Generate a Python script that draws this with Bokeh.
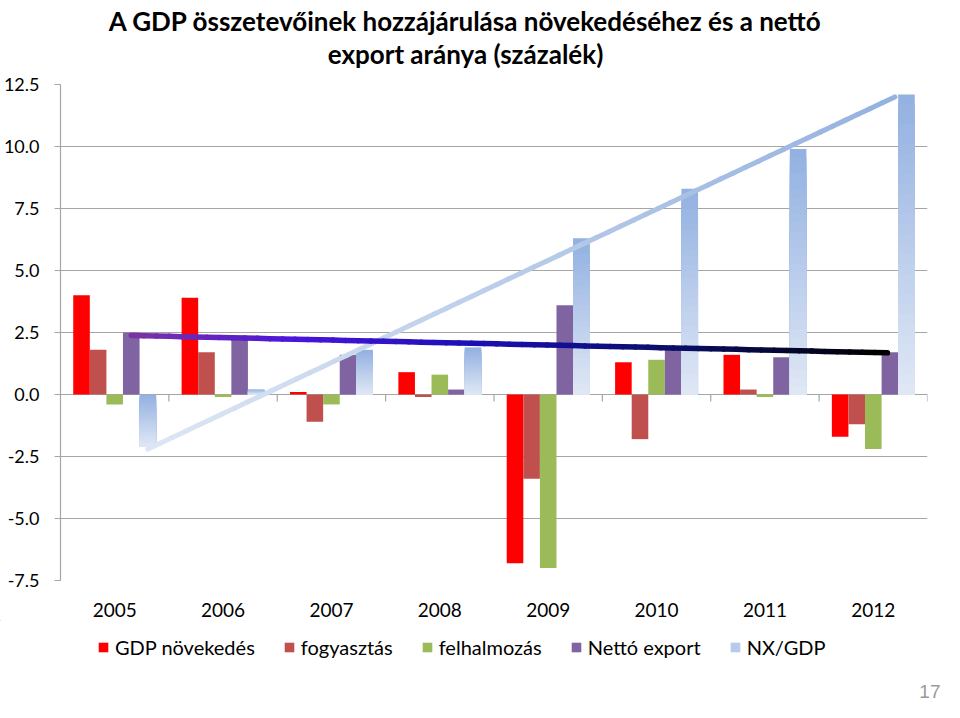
import numpy as np
from bokeh.plotting import figure
from bokeh.layouts import column
from bokeh.models import (Range1d, FixedTicker, Label, Legend, LegendItem,
                          ColumnDataSource, NumeralTickFormatter)
from bokeh.embed import file_html
from bokeh.resources import INLINE

# ---------------- data ----------------
years = ["2005", "2006", "2007", "2008", "2009", "2010", "2011", "2012"]
gdp_novekedes = [4.0, 3.9, 0.1, 0.9, -6.8, 1.3, 1.6, -1.7]
fogyasztas = [1.8, 1.7, -1.1, -0.1, -3.4, -1.8, 0.2, -1.2]
felhalmozas = [-0.4, -0.1, -0.4, 0.8, -7.0, 1.4, -0.1, -2.2]
netto_export = [2.5, 2.2, 1.6, 0.2, 3.6, 1.8, 1.5, 1.7]
nx_gdp = [-2.1, 0.2, 1.8, 1.9, 6.3, 8.3, 9.9, 12.1]
# linear trend lines (start / end values)
netto_export_trend = [2.38, 1.68]
nx_gdp_trend = [-2.2, 12.0]
y_ticks = [-7.5, -5.0, -2.5, 0.0, 2.5, 5.0, 7.5, 10.0, 12.5]

title_lines = ["A GDP összetevőinek hozzájárulása növekedéséhez és a nettó",
               "export aránya (százalék)"]
series_names = ["GDP növekedés", "fogyasztás", "felhalmozás", "Nettó export", "NX/GDP"]
page_number = "17"

# ---------------- style ----------------
FONT = "Lato"
GRID = "#a6a6a6"
BAR_W = 0.153
COLORS = ["#ff0000", "#c0504d", "#9bbb59", "#8064a2"]
NXGDP_TOP = "#93b1e1"
NXGDP_BOT = "#dfe7f5"
NXGDP_LEGEND = "#b6caeb"
W = 944


def hex2rgb(h):
    h = h.lstrip("#")
    return np.array([int(h[i:i + 2], 16) for i in (0, 2, 4)], dtype=float)


def rgb2hex(c):
    c = np.clip(np.round(c), 0, 255).astype(int)
    return "#%02x%02x%02x" % tuple(c)


def interp_colors(stops, n):
    pos = np.array([s[0] for s in stops])
    cols = np.array([hex2rgb(s[1]) for s in stops])
    out = []
    for t in np.linspace(0, 1, n):
        c = [np.interp(t, pos, cols[:, k]) for k in range(3)]
        out.append(rgb2hex(np.array(c)))
    return out


def blank_fig(height, y_top, y_bottom):
    f = figure(width=W, height=height, output_backend="svg", toolbar_location=None,
               x_range=Range1d(0, W), y_range=Range1d(y_bottom, y_top),
               x_axis_type=None, y_axis_type=None, min_border=0,
               frame_align=False)
    f.title_location = None
    f.outline_line_color = None
    f.grid.visible = False
    f.background_fill_color = "white"
    f.border_fill_color = "white"
    return f


# ---------------- title figure (page rows 0..72) ----------------
pt = blank_fig(72, 0, 72)
for txt, yy in zip(title_lines, [20, 53]):
    pt.add_layout(Label(x=465, y=yy, text=txt, text_align="center",
                        text_baseline="alphabetic", text_font=FONT,
                        text_font_style="bold", text_font_size="26px",
                        text_color="black"))

# ---------------- main chart (page rows 72..620) ----------------
x_idx = np.arange(len(years), dtype=float)

p = figure(width=W, height=548, output_backend="svg", toolbar_location=None,
           x_range=Range1d(-0.5, 7.5), y_range=Range1d(-7.5, 12.5),
           min_border_left=59, min_border_right=17,
           min_border_top=12, min_border_bottom=40, frame_align=False)
p.title_location = None
p.outline_line_color = None
p.background_fill_color = "white"
p.border_fill_color = "white"

p.xgrid.visible = False
p.ygrid.ticker = FixedTicker(ticks=y_ticks)
p.ygrid.grid_line_color = GRID
p.ygrid.grid_line_width = 1.2

p.yaxis.ticker = FixedTicker(ticks=y_ticks)
p.yaxis.formatter = NumeralTickFormatter(format="0.0")
p.yaxis.axis_line_color = GRID
p.yaxis.axis_line_width = 1.2
p.yaxis.major_tick_line_color = GRID
p.yaxis.major_tick_line_width = 1.2
p.yaxis.major_tick_out = 6
p.yaxis.major_tick_in = 0
p.yaxis.minor_tick_line_color = None
p.yaxis.major_label_standoff = 15
p.yaxis.major_label_text_font = FONT
p.yaxis.major_label_text_font_size = "18px"
p.yaxis.major_label_text_color = "black"

p.xaxis.ticker = FixedTicker(ticks=list(x_idx))
p.xaxis.major_label_overrides = {i: y for i, y in enumerate(years)}
p.xaxis.axis_line_color = None
p.xaxis.major_tick_line_color = None
p.xaxis.minor_tick_line_color = None
p.xaxis.major_label_standoff = 16
p.xaxis.major_label_text_font = FONT
p.xaxis.major_label_text_font_size = "19px"
p.xaxis.major_label_text_color = "black"

# category boundary ticks on the zero line
bounds = x_idx + 0.5
p.segment(x0=bounds, y0=[0.0] * len(bounds), x1=bounds, y1=[-0.28] * len(bounds),
          line_color=GRID, line_width=1.2)

# solid bars
for k, (vals, col) in enumerate(zip([gdp_novekedes, fogyasztas, felhalmozas, netto_export], COLORS)):
    p.vbar(x=x_idx + (k - 2) * BAR_W, top=vals, bottom=0, width=BAR_W,
           fill_color=col, line_color=None)

# gradient bars (NX/GDP)
N = 30
grad = interp_colors([(0, NXGDP_TOP), (1, NXGDP_BOT)], N)
L, R, T, B, C = [], [], [], [], []
for i, v in enumerate(nx_gdp):
    top, bot = max(v, 0.0), min(v, 0.0)
    cx = x_idx[i] + 2 * BAR_W
    for j in range(N):
        L.append(cx - BAR_W / 2)
        R.append(cx + BAR_W / 2)
        T.append(top - (top - bot) * j / N)
        B.append(bot)
        C.append(grad[j])
src = ColumnDataSource(dict(left=L, right=R, top=T, bottom=B, color=C))
p.quad(left="left", right="right", top="top", bottom="bottom",
       fill_color="color", line_color=None, source=src)

# trend lines with gradient colours
M = 60


def gradient_line(x0, x1, yv, stops, width):
    xs = np.linspace(x0, x1, M + 1)
    ys = np.linspace(yv[0], yv[1], M + 1)
    cols = interp_colors(stops, M)
    p.segment(x0=xs[:-1], y0=ys[:-1], x1=xs[1:], y1=ys[1:],
              line_color=cols, line_width=width, line_cap="round")


gradient_line(x_idx[0] + 2 * BAR_W, x_idx[-1] + 1.3 * BAR_W, nx_gdp_trend,
              [(0, "#dde6f4"), (1, "#95b2df")], 5)
gradient_line(x_idx[0] + 1 * BAR_W, x_idx[-1] + 0.85 * BAR_W, netto_export_trend,
              [(0, "#7a32a6"), (0.22, "#4a14dc"), (0.45, "#1a10b4"),
               (0.7, "#0b0f6e"), (1, "#000000")], 5.5)

# ---------------- legend figure (page rows 620..702) ----------------
pl = blank_fig(82, 620, 702)
leg_renderers = []
for col in COLORS + [NXGDP_LEGEND]:
    # zero-height proxy glyphs outside the frame, only used for legend swatches
    leg_renderers.append(pl.vbar(x=[-20], top=[0], bottom=[0], width=1,
                                 fill_color=col, line_color=None))
items = [LegendItem(label=series_names[k], renderers=[leg_renderers[k]]) for k in range(5)]
legend = Legend(items=items, orientation="horizontal", location=(97, 43),
                label_text_font=FONT, label_text_font_size="20px",
                label_text_color="black",
                glyph_width=12, glyph_height=12, label_standoff=6, spacing=28,
                border_line_color=None, background_fill_alpha=0,
                padding=4, margin=0)
pl.add_layout(legend, "center")
pl.add_layout(Label(x=W - 4, y=691, text=page_number, text_align="right",
                    text_baseline="alphabetic", text_font="Liberation Sans",
                    text_font_size="19px", text_color="#9a9a9a"))

layout = column(pt, p, pl, spacing=0)
open("out.html", "w").write(file_html(layout, INLINE))
